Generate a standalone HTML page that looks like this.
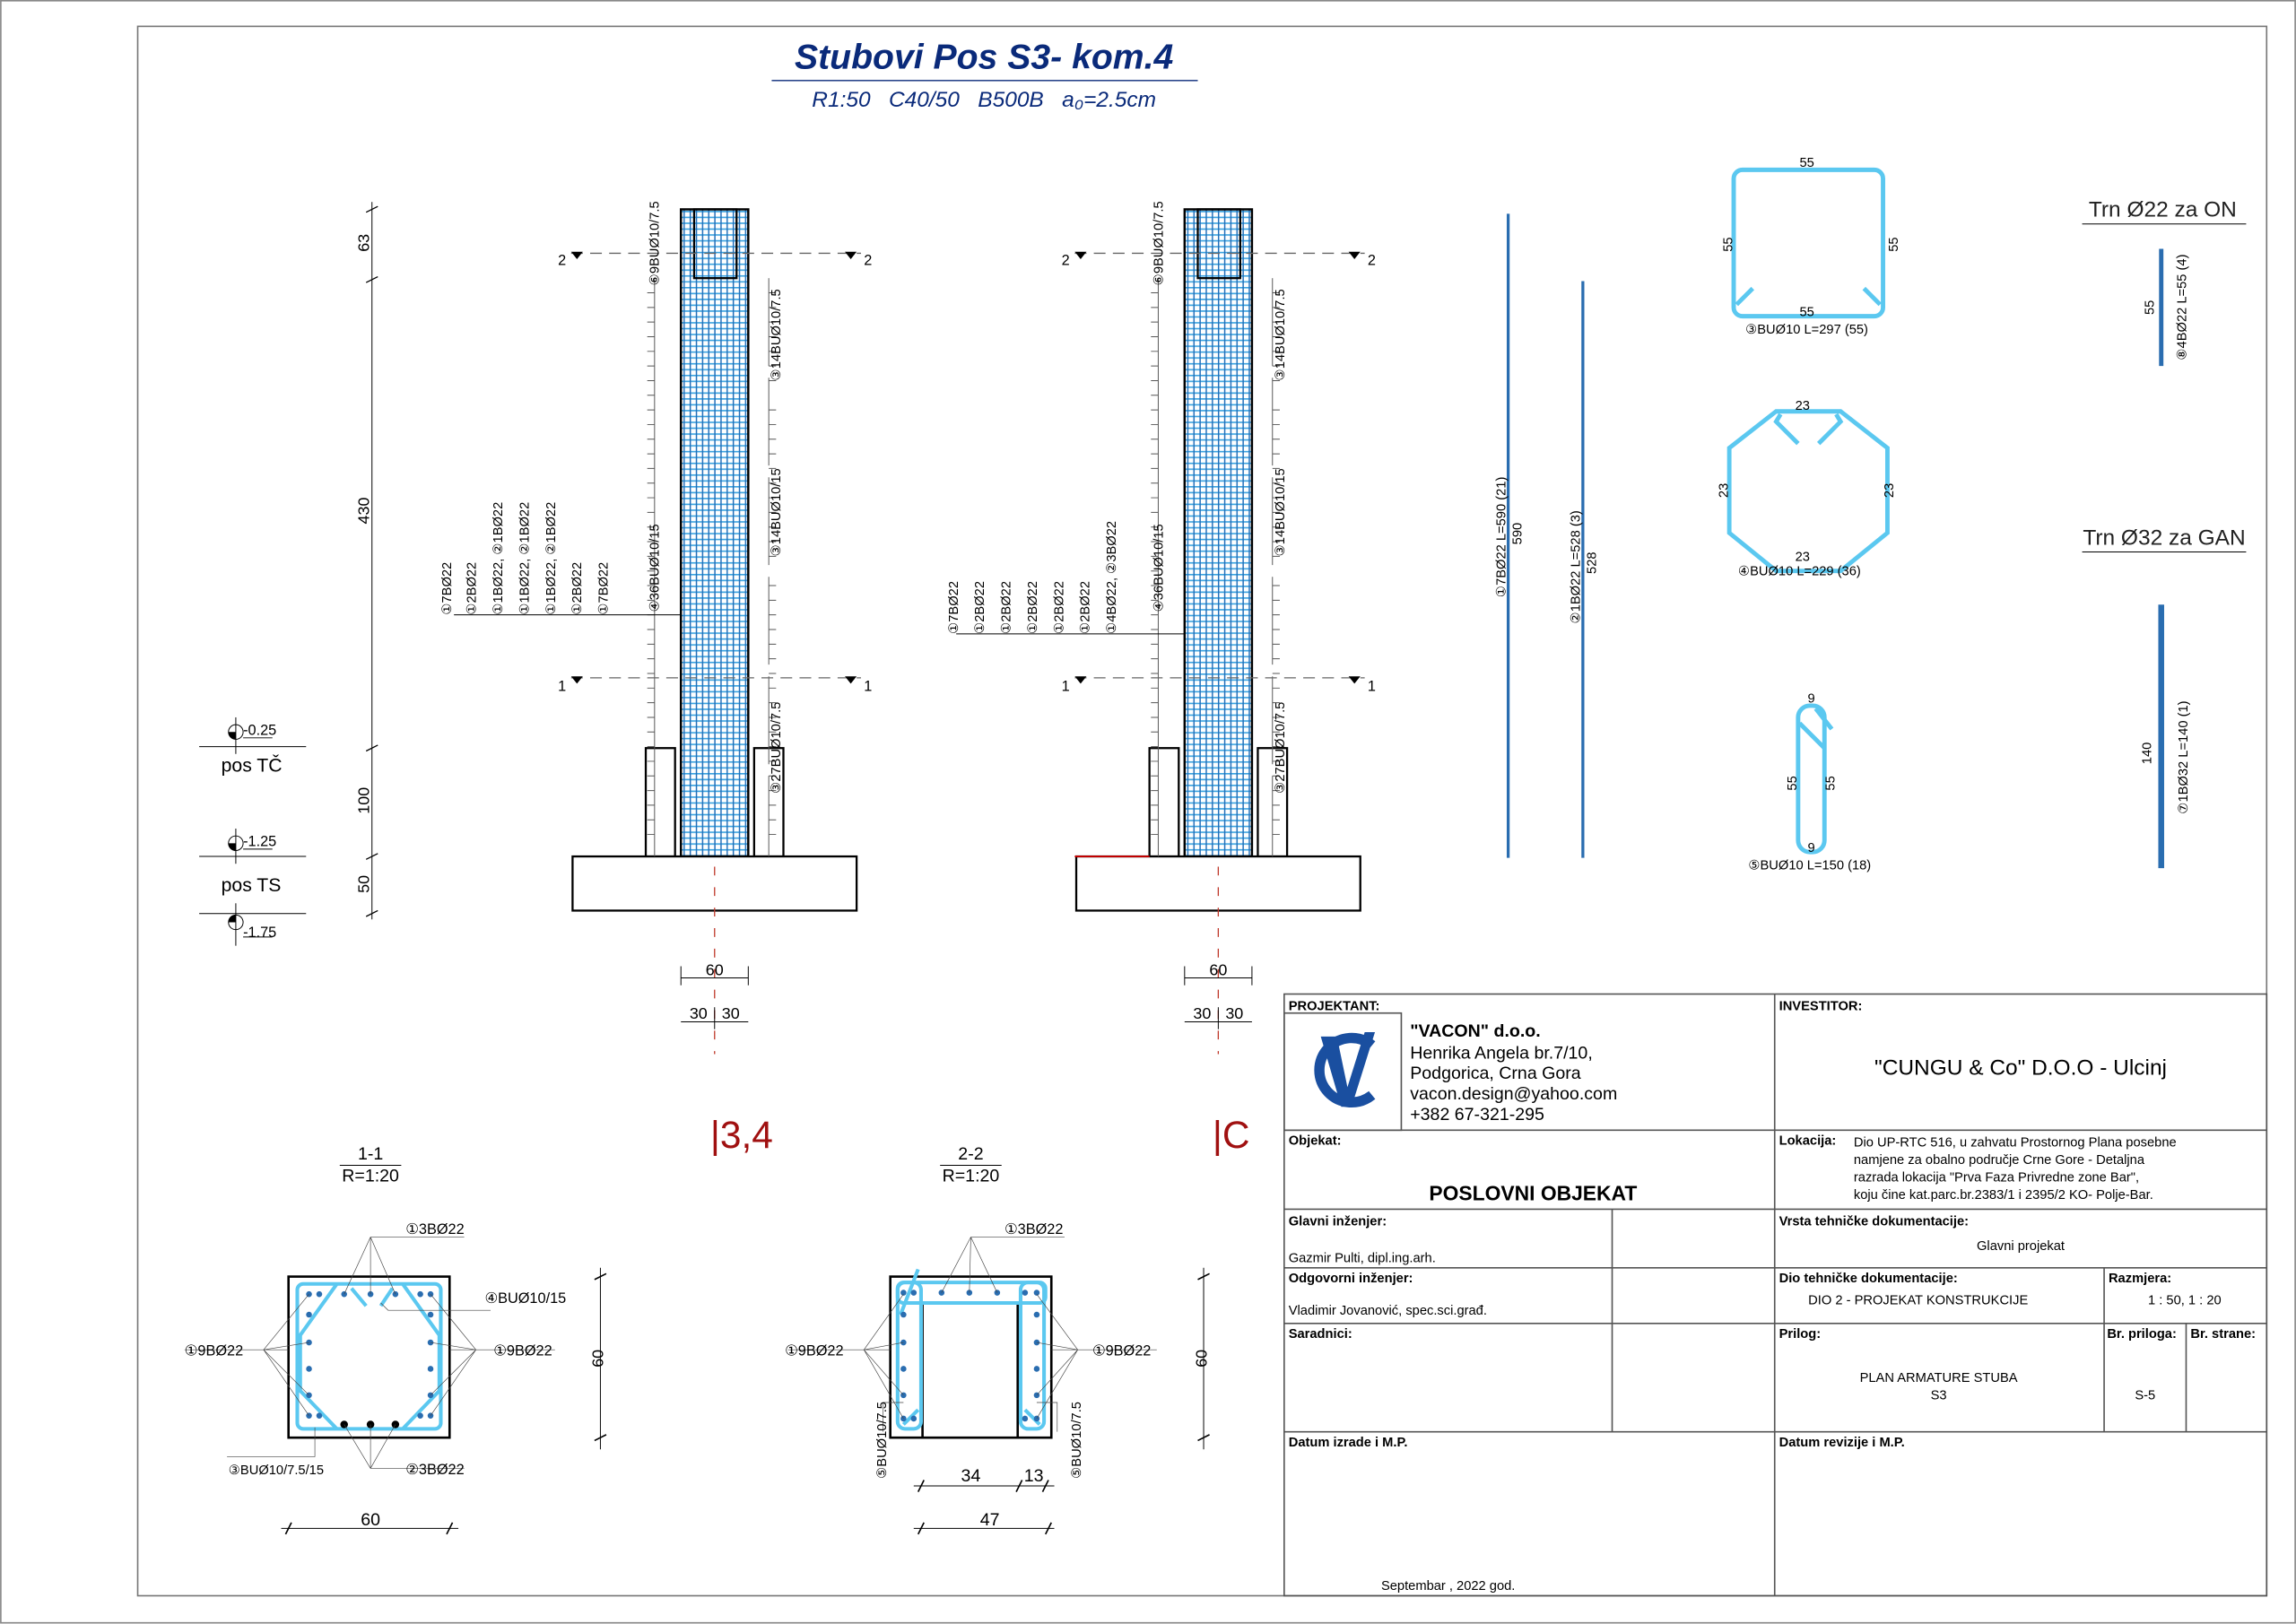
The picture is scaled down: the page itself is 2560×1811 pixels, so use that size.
<!DOCTYPE html>
<html><head><meta charset="utf-8"><style>
html,body{margin:0;padding:0;background:#fff}
svg{display:block}
text{font-family:"Liberation Sans",sans-serif;white-space:pre}
</style></head><body>
<svg width="2560" height="1811" viewBox="0 0 1568 1109.3" xmlns="http://www.w3.org/2000/svg" xml:space="preserve">
<defs>
<pattern id="bars" x="0" y="0" width="4.2" height="4" patternUnits="userSpaceOnUse">
<rect width="4.2" height="4" fill="#fff"/>
<line x1="0" y1="0.5" x2="4.2" y2="0.5" stroke="#3aa3e0" stroke-width="1"/>
<line x1="1" y1="0" x2="1" y2="4" stroke="#1f6db8" stroke-width="0.9"/>
</pattern>
<g id="col">
 <rect x="465" y="143" width="46" height="442" fill="url(#bars)" stroke="#000" stroke-width="1.5"/>
 <rect x="474" y="143" width="29" height="47" fill="none" stroke="#000" stroke-width="1.4"/>
 <rect x="441" y="511" width="20" height="74" fill="none" stroke="#000" stroke-width="1.4"/>
 <rect x="515" y="511" width="20" height="74" fill="none" stroke="#000" stroke-width="1.4"/>
 <rect x="391" y="585" width="194" height="37" fill="#fff" stroke="#000" stroke-width="1.4"/>
 <line x1="447" y1="190" x2="447" y2="585" stroke="#555" stroke-width="0.6"/>
 <line x1="525" y1="190" x2="525" y2="585" stroke="#555" stroke-width="0.6" stroke-dasharray="60,8"/>
 <path d="M442 200h5M442 210h5M442 220h5M442 230h5M442 240h5M442 250h5M442 260h5M442 270h5M442 280h5M442 290h5M442 300h5M442 310h5M442 320h5M442 330h5M442 340h5M442 350h5M442 360h5M442 370h5M442 380h5M442 390h5M442 400h5M442 410h5M442 420h5M442 430h5M442 440h5M442 450h5M442 460h5M442 470h5M442 480h5M442 490h5M442 500h5M442 510h5M442 520h5M442 530h5M442 540h5M442 550h5M442 560h5M442 570h5M525 200h5M525 210h5M525 220h5M525 230h5M525 240h5M525 250h5M525 260h5M525 280h5M525 290h5M525 300h5M525 310h5M525 320h5M525 330h5M525 340h5M525 350h5M525 360h5M525 370h5M525 380h5M525 400h5M525 410h5M525 420h5M525 430h5M525 440h5M525 450h5M525 460h5M525 470h5M525 480h5M525 490h5M525 500h5M525 510h5M525 520h5M525 530h5M525 540h5M525 550h5M525 560h5M525 570h5" stroke="#555" stroke-width="0.6"/>
 <line x1="390" y1="173" x2="588" y2="173" stroke="#666" stroke-width="0.8" stroke-dasharray="8,5"/>
 <line x1="390" y1="463" x2="588" y2="463" stroke="#666" stroke-width="0.8" stroke-dasharray="8,5"/>
 <line x1="488" y1="592" x2="488" y2="720" stroke="#c0392b" stroke-width="0.8" stroke-dasharray="6,8"/>
 <path d="M390 172l4 5 4-5zM577 172l4 5 4-5zM390 462l4 5 4-5zM577 462l4 5 4-5z" fill="#000"/>
 <text x="381" y="181" font-size="10">2</text><text x="590" y="181" font-size="10">2</text>
 <text x="381" y="472" font-size="10">1</text><text x="590" y="472" font-size="10">1</text>
 <line x1="465" y1="668" x2="511" y2="668" stroke="#000" stroke-width="0.6"/>
 <line x1="465" y1="660" x2="465" y2="673" stroke="#000" stroke-width="0.6"/><line x1="511" y1="660" x2="511" y2="673" stroke="#000" stroke-width="0.6"/>
 <text x="488" y="666" font-size="11" text-anchor="middle">60</text>
 <line x1="465" y1="698" x2="511" y2="698" stroke="#000" stroke-width="0.6"/>
 <line x1="488" y1="688" x2="488" y2="703" stroke="#000" stroke-width="0.6"/>
 <text x="477" y="696" font-size="11" text-anchor="middle">30</text><text x="499" y="696" font-size="11" text-anchor="middle">30</text>
 <text transform="translate(450,195) rotate(-90)" font-size="9">⑥9BUØ10/7.5</text>
 <text transform="translate(533,260) rotate(-90)" font-size="9">③14BUØ10/7.5</text>
 <text transform="translate(533,380) rotate(-90)" font-size="9">③14BUØ10/15</text>
 <text transform="translate(450,418) rotate(-90)" font-size="9">④36BUØ10/15</text>
 <text transform="translate(533,542) rotate(-90)" font-size="9">③27BUØ10/7.5</text>
</g>
</defs>
<rect x="0.5" y="0.5" width="1567" height="1108" fill="none" stroke="#888" stroke-width="1"/>
<rect x="94" y="18" width="1454" height="1072" fill="none" stroke="#777" stroke-width="1"/>
<!-- title -->
<text x="672" y="47" font-size="24" font-weight="bold" font-style="italic" fill="#0a2a7a" text-anchor="middle">Stubovi Pos S3- kom.4</text>
<line x1="527" y1="55" x2="818" y2="55" stroke="#0a2a7a" stroke-width="0.8"/>
<text x="672" y="73" font-size="15" font-style="italic" fill="#0a2a7a" text-anchor="middle">R1:50   C40/50   B500B   a₀=2.5cm</text>
<!-- left dims -->
<line x1="254" y1="138" x2="254" y2="628" stroke="#000" stroke-width="0.6"/>
<path d="M250 145l8-4M250 193l8-4M250 513l8-4M250 587l8-4M250 626l8-4" stroke="#000" stroke-width="0.8"/>
<text transform="translate(252,172) rotate(-90)" font-size="11">63</text>
<text transform="translate(252,358) rotate(-90)" font-size="11">430</text>
<text transform="translate(252,556) rotate(-90)" font-size="11">100</text>
<text transform="translate(252,610) rotate(-90)" font-size="11">50</text>
<g stroke="#000" stroke-width="0.6" fill="none">
<line x1="136" y1="510" x2="209" y2="510"/><line x1="136" y1="585" x2="209" y2="585"/><line x1="136" y1="624" x2="209" y2="624"/>
<line x1="161" y1="490" x2="161" y2="515"/><line x1="161" y1="566" x2="161" y2="590"/><line x1="161" y1="617" x2="161" y2="646"/>
<circle cx="161" cy="500" r="5"/><circle cx="161" cy="576" r="5"/><circle cx="161" cy="630" r="5"/>
<line x1="166" y1="504" x2="186" y2="504"/><line x1="166" y1="580" x2="186" y2="580"/><line x1="166" y1="640" x2="186" y2="640"/>
</g>
<path d="M161 500h-5a5 5 0 0 0 5 5zM161 576h-5a5 5 0 0 0 5 5zM161 630h-5a5 5 0 0 1 5-5z" fill="#000"/>
<text x="166" y="502" font-size="10">-0.25</text><text x="166" y="578" font-size="10">-1.25</text><text x="166" y="640" font-size="10">-1.75</text>
<text x="151" y="527" font-size="13">pos TČ</text><text x="151" y="609" font-size="13">pos TS</text>
<!-- columns -->
<use href="#col"/>
<use href="#col" transform="translate(344,0)"/>
<line x1="734" y1="585" x2="785" y2="585" stroke="#c00" stroke-width="1.2"/>
<text x="485" y="784" font-size="26" fill="#a01010">|3,4</text>
<text x="828" y="784" font-size="26" fill="#a01010">|C</text>
<!-- long bar labels col1 -->
<line x1="310" y1="420" x2="465" y2="420" stroke="#000" stroke-width="0.6"/>
<g font-size="9">
<text transform="translate(308,420) rotate(-90)">①7BØ22</text>
<text transform="translate(325,420) rotate(-90)">①2BØ22</text>
<text transform="translate(343,420) rotate(-90)">①1BØ22, ②1BØ22</text>
<text transform="translate(361,420) rotate(-90)">①1BØ22, ②1BØ22</text>
<text transform="translate(379,420) rotate(-90)">①1BØ22, ②1BØ22</text>
<text transform="translate(397,420) rotate(-90)">①2BØ22</text>
<text transform="translate(415,420) rotate(-90)">①7BØ22</text>
</g>
<line x1="653" y1="433" x2="809" y2="433" stroke="#000" stroke-width="0.6"/>
<g font-size="9">
<text transform="translate(654,433) rotate(-90)">①7BØ22</text>
<text transform="translate(672,433) rotate(-90)">①2BØ22</text>
<text transform="translate(690,433) rotate(-90)">①2BØ22</text>
<text transform="translate(708,433) rotate(-90)">①2BØ22</text>
<text transform="translate(726,433) rotate(-90)">①2BØ22</text>
<text transform="translate(744,433) rotate(-90)">①2BØ22</text>
<text transform="translate(762,433) rotate(-90)">①4BØ22, ②3BØ22</text>
</g>
<!-- straight bars -->
<line x1="1030" y1="146" x2="1030" y2="586" stroke="#2a6db0" stroke-width="2"/>
<line x1="1081" y1="192" x2="1081" y2="586" stroke="#2a6db0" stroke-width="2"/>
<text transform="translate(1028,408) rotate(-90)" font-size="9">①7BØ22 L=590 (21)</text>
<text transform="translate(1039,372) rotate(-90)" font-size="9">590</text>
<text transform="translate(1079,426) rotate(-90)" font-size="9">②1BØ22 L=528 (3)</text>
<text transform="translate(1090,392) rotate(-90)" font-size="9">528</text>
<!-- stirrups -->
<g fill="none" stroke="#5bc8f0" stroke-width="3">
<rect x="1184" y="116" width="102" height="100" rx="6"/>
<path d="M1186 208l11-11M1284 208l-11-11"/>
<polygon points="1213,281 1257,281 1289,306 1289,364 1257,390 1213,390 1181,364 1181,306"/>
<path d="M1216 283l-3 5 15 15M1254 283l3 5-15 15"/>
<rect x="1228" y="482" width="18" height="100" rx="8"/>
<path d="M1229 494l17 17M1240 484l11 14"/>
</g>
<g font-size="9">
<text x="1234" y="114" text-anchor="middle">55</text><text x="1234" y="216" text-anchor="middle">55</text>
<text transform="translate(1183,172) rotate(-90)">55</text><text transform="translate(1296,172) rotate(-90)">55</text>
<text x="1192" y="228">③BUØ10 L=297 (55)</text>
<text x="1231" y="280" text-anchor="middle">23</text><text x="1231" y="383" text-anchor="middle">23</text>
<text transform="translate(1180,340) rotate(-90)">23</text><text transform="translate(1293,340) rotate(-90)">23</text>
<text x="1187" y="393">④BUØ10 L=229 (36)</text>
<text x="1237" y="480" text-anchor="middle">9</text><text x="1237" y="582" text-anchor="middle">9</text>
<text transform="translate(1227,540) rotate(-90)">55</text><text transform="translate(1253,540) rotate(-90)">55</text>
<text x="1194" y="594">⑤BUØ10 L=150 (18)</text>
</g>
<!-- Trn -->
<text x="1477" y="148" font-size="15" text-anchor="middle" fill="#222">Trn Ø22 za ON</text>
<line x1="1422" y1="153" x2="1534" y2="153" stroke="#000" stroke-width="0.6"/>
<line x1="1476" y1="170" x2="1476" y2="250" stroke="#2a6db0" stroke-width="3"/>
<text transform="translate(1471,215) rotate(-90)" font-size="9">55</text>
<text transform="translate(1493,246) rotate(-90)" font-size="9">⑧4BØ22 L=55 (4)</text>
<text x="1478" y="372" font-size="15" text-anchor="middle" fill="#222">Trn Ø32 za GAN</text>
<line x1="1422" y1="377" x2="1534" y2="377" stroke="#000" stroke-width="0.6"/>
<line x1="1476" y1="413" x2="1476" y2="593" stroke="#2a6db0" stroke-width="4"/>
<text transform="translate(1469,522) rotate(-90)" font-size="9">140</text>
<text transform="translate(1494,556) rotate(-90)" font-size="9">⑦1BØ32 L=140 (1)</text>
<!-- section 1-1 -->
<text x="253" y="792" font-size="12" text-anchor="middle">1-1</text>
<line x1="232" y1="796" x2="274" y2="796" stroke="#000" stroke-width="0.6"/>
<text x="253" y="807" font-size="12" text-anchor="middle">R=1:20</text>
<rect x="197" y="872" width="110" height="110" fill="#fff" stroke="#000" stroke-width="1.6"/>
<g fill="none" stroke="#5bc8f0" stroke-width="2.5">
<rect x="203" y="877" width="98" height="99" rx="4"/>
<path d="M230 877l-25 35v38l25 26M275 877l25 35v38l-25 26"/>
<path d="M240 880l10 12M268 880l-8 12"/>
</g>
<g fill="#2a6db0">
<circle cx="211" cy="884" r="2"/><circle cx="218" cy="884" r="2"/><circle cx="235" cy="884" r="2"/><circle cx="253" cy="884" r="2"/><circle cx="270" cy="884" r="2"/><circle cx="287" cy="884" r="2"/><circle cx="294" cy="884" r="2"/>
<circle cx="211" cy="898" r="2"/><circle cx="211" cy="917" r="2"/><circle cx="211" cy="935" r="2"/><circle cx="211" cy="953" r="2"/><circle cx="211" cy="967" r="2"/><circle cx="218" cy="967" r="2"/>
<circle cx="294" cy="898" r="2"/><circle cx="294" cy="917" r="2"/><circle cx="294" cy="935" r="2"/><circle cx="294" cy="953" r="2"/><circle cx="294" cy="967" r="2"/><circle cx="287" cy="967" r="2"/>
</g>
<g fill="#000"><circle cx="235" cy="973" r="2.6"/><circle cx="253" cy="973" r="2.6"/><circle cx="270" cy="973" r="2.6"/></g>
<g stroke="#444" stroke-width="0.4" fill="none">
<path d="M253 845L235 884M253 845L253 884M253 845L270 884M253 845h64"/>
<path d="M253 1003L235 973M253 1003L253 973M253 1003L270 973M253 1003h64"/>
<path d="M180 922L211 884M180 922L211 917M180 922L211 953M180 922L211 967M180 922h17M126 922h54"/>
<path d="M325 922L294 884M325 922L294 917M325 922L294 953M325 922L294 967M307 922h72"/>
<path d="M260 890l5 5h70M215 975v20h-60"/>
</g>
<g font-size="10">
<text x="277" y="843">①3BØ22</text><text x="277" y="1007">②3BØ22</text>
<text x="126" y="926">①9BØ22</text><text x="337" y="926">①9BØ22</text>
<text x="331" y="890">④BUØ10/15</text><text x="156" y="1007" font-size="9">③BUØ10/7.5/15</text>
</g>
<line x1="410" y1="866" x2="410" y2="990" stroke="#000" stroke-width="0.6"/>
<path d="M406 874l8-4M406 984l8-4" stroke="#000"/>
<text transform="translate(412,934) rotate(-90)" font-size="11">60</text>
<line x1="192" y1="1044" x2="313" y2="1044" stroke="#000" stroke-width="0.6"/>
<path d="M195 1048l4-8M305 1048l4-8" stroke="#000"/>
<text x="253" y="1042" font-size="12" text-anchor="middle">60</text>
<!-- section 2-2 -->
<text x="663" y="792" font-size="12" text-anchor="middle">2-2</text>
<line x1="642" y1="796" x2="684" y2="796" stroke="#000" stroke-width="0.6"/>
<text x="663" y="807" font-size="12" text-anchor="middle">R=1:20</text>
<rect x="608" y="872" width="110" height="110" fill="#fff" stroke="#000" stroke-width="1.6"/>
<rect x="630" y="890" width="65" height="92" fill="#fff" stroke="#000" stroke-width="1.6"/>
<g fill="none" stroke="#5bc8f0" stroke-width="2.5">
<rect x="613" y="876" width="101" height="14" rx="4"/>
<rect x="613" y="876" width="16" height="100" rx="5"/>
<rect x="697" y="876" width="16" height="100" rx="5"/>
<path d="M615 898l12-31M627 963l-10 10M700 963l10 10"/>
</g>
<g fill="#2a6db0">
<circle cx="617" cy="883" r="2"/><circle cx="624" cy="883" r="2"/><circle cx="643" cy="883" r="2"/><circle cx="662" cy="883" r="2"/><circle cx="681" cy="883" r="2"/><circle cx="700" cy="883" r="2"/><circle cx="708" cy="883" r="2"/>
<circle cx="617" cy="898" r="2"/><circle cx="617" cy="917" r="2"/><circle cx="617" cy="935" r="2"/><circle cx="617" cy="953" r="2"/><circle cx="617" cy="969" r="2"/><circle cx="624" cy="969" r="2"/>
<circle cx="708" cy="898" r="2"/><circle cx="708" cy="917" r="2"/><circle cx="708" cy="935" r="2"/><circle cx="708" cy="953" r="2"/><circle cx="708" cy="969" r="2"/><circle cx="700" cy="969" r="2"/>
</g>
<g stroke="#444" stroke-width="0.4" fill="none">
<path d="M663 845L643 883M663 845L662 883M663 845L681 883M663 845h64"/>
<path d="M590 922L617 884M590 922L617 917M590 922L617 953M590 922L617 969M538 922h70"/>
<path d="M736 922L708 884M736 922L708 917M736 922L708 953M736 922L708 969M718 922h72"/>
<path d="M617 958h-14v20M708 958h14v20"/>
</g>
<g font-size="10">
<text x="686" y="843">①3BØ22</text><text x="536" y="926">①9BØ22</text><text x="746" y="926">①9BØ22</text>
</g>
<text transform="translate(605,1010) rotate(-90)" font-size="9">⑤BUØ10/7.5</text>
<text transform="translate(738,1010) rotate(-90)" font-size="9">⑤BUØ10/7.5</text>
<line x1="822" y1="866" x2="822" y2="990" stroke="#000" stroke-width="0.6"/>
<path d="M818 874l8-4M818 984l8-4" stroke="#000"/>
<text transform="translate(824,934) rotate(-90)" font-size="11">60</text>
<line x1="624" y1="1015" x2="720" y2="1015" stroke="#000" stroke-width="0.6"/>
<path d="M627 1019l4-8M694 1019l4-8M712 1019l4-8" stroke="#000"/>
<text x="663" y="1012" font-size="12" text-anchor="middle">34</text><text x="706" y="1012" font-size="12" text-anchor="middle">13</text>
<line x1="624" y1="1044" x2="720" y2="1044" stroke="#000" stroke-width="0.6"/>
<path d="M627 1048l4-8M714 1048l4-8" stroke="#000"/>
<text x="676" y="1042" font-size="12" text-anchor="middle">47</text>
<!-- title block -->
<g fill="none" stroke="#555" stroke-width="1">
<rect x="877" y="679" width="671" height="411"/>
<line x1="1212" y1="679" x2="1212" y2="1090"/>
<line x1="877" y1="772" x2="1548" y2="772"/>
<line x1="877" y1="826" x2="1548" y2="826"/>
<line x1="877" y1="866" x2="1548" y2="866"/>
<line x1="877" y1="904" x2="1548" y2="904"/>
<line x1="877" y1="978" x2="1548" y2="978"/>
<line x1="1101" y1="826" x2="1101" y2="978"/>
<line x1="1437" y1="866" x2="1437" y2="978"/>
<line x1="1493" y1="904" x2="1493" y2="978"/>
<rect x="877" y="692" width="80" height="80"/>
</g>
<g fill="none" stroke="#1a4fa0" stroke-width="7">
<path d="M937 714 A 22 22 0 1 0 937 748"/>
</g>
<path d="M902 708l14 48h7l-10-48zM932 705l-16 51h7l16-51z" fill="#1a4fa0"/>
<g font-size="9" font-weight="bold">
<text x="880" y="690">PROJEKTANT:</text><text x="1215" y="690">INVESTITOR:</text>
<text x="880" y="782">Objekat:</text><text x="1215" y="782">Lokacija:</text>
<text x="880" y="837">Glavni inženjer:</text><text x="1215" y="837">Vrsta tehničke dokumentacije:</text>
<text x="880" y="876">Odgovorni inženjer:</text><text x="1215" y="876">Dio tehničke dokumentacije:</text><text x="1440" y="876">Razmjera:</text>
<text x="880" y="914">Saradnici:</text><text x="1215" y="914">Prilog:</text><text x="1439" y="914">Br. priloga:</text><text x="1496" y="914">Br. strane:</text>
<text x="880" y="988">Datum izrade i M.P.</text><text x="1215" y="988">Datum revizije i M.P.</text>
</g>
<text x="963" y="708" font-size="12" font-weight="bold">"VACON" d.o.o.</text>
<g font-size="12"><text x="963" y="723">Henrika Angela br.7/10,</text><text x="963" y="737">Podgorica, Crna Gora</text><text x="963" y="751">vacon.design@yahoo.com</text><text x="963" y="765">+382 67-321-295</text></g>
<text x="1380" y="734" font-size="15" text-anchor="middle">"CUNGU &amp; Co" D.O.O - Ulcinj</text>
<text x="1047" y="820" font-size="14" font-weight="bold" text-anchor="middle">POSLOVNI OBJEKAT</text>
<g font-size="9"><text x="1266" y="783">Dio UP-RTC 516, u zahvatu Prostornog Plana posebne</text><text x="1266" y="795">namjene za obalno područje Crne Gore - Detaljna</text><text x="1266" y="807">razrada lokacija "Prva Faza Privredne zone Bar",</text><text x="1266" y="819">koju čine kat.parc.br.2383/1 i 2395/2 KO- Polje-Bar.</text></g>
<g font-size="9">
<text x="880" y="862">Gazmir Pulti, dipl.ing.arh.</text>
<text x="1380" y="854" text-anchor="middle">Glavni projekat</text>
<text x="880" y="898">Vladimir Jovanović, spec.sci.građ.</text>
<text x="1310" y="891" text-anchor="middle">DIO 2 - PROJEKAT KONSTRUKCIJE</text>
<text x="1492" y="891" text-anchor="middle">1 : 50, 1 : 20</text>
<text x="1324" y="944" text-anchor="middle">PLAN ARMATURE STUBA</text><text x="1324" y="956" text-anchor="middle">S3</text>
<text x="1465" y="956" text-anchor="middle">S-5</text>
<text x="989" y="1086" text-anchor="middle">Septembar , 2022 god.</text>
</g>
</svg>
</body></html>
